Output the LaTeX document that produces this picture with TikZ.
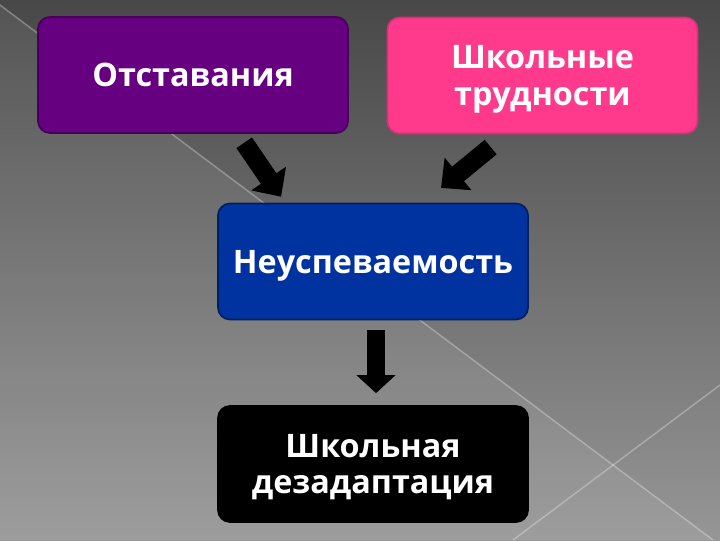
\documentclass[tikz,border=0pt]{standalone}
\usepackage{fontspec}
\setmainfont{Open Sans}
\usepackage{tikz}
\usetikzlibrary{
  arrows.meta,  % Triangle 箭头
  calc,         % 坐标计算
  positioning   % 节点相对定位
}
\definecolor{bgtop}{RGB}{72,72,72}
\definecolor{bgbottom}{RGB}{150,150,150}
\definecolor{lagpurple}{RGB}{102,0,128}
\definecolor{diffpink}{RGB}{255,58,140}
\definecolor{failblue}{RGB}{0,51,160}

\begin{document}
\begin{tikzpicture}[>=Stealth, x=0.025cm, y=-0.025cm,
  stagebox/.style={rectangle, rounded corners=0.3cm, minimum width=7.75cm,
    minimum height=2.9cm, text=white, align=center, line width=1.2pt,
    text depth=0pt, font=\bfseries\fontsize{23}{26}\selectfont},
  blockarrow/.style={line width=0.47cm, -{Triangle[length=0.55cm, width=1.02cm]}}]
  \useasboundingbox (0,0) rectangle (720,540);

  % ===== 背景 =====
  \shade[top color=bgtop, bottom color=bgbottom] (0,0) rectangle (720,540);
  \fill[white, opacity=0.07] (0,5) -- (713,540) -- (0,540) -- cycle;
  % 斜线
  \draw[white, opacity=0.3, line width=1pt] (0,5) -- (713,540);
  \draw[white, opacity=0.3, line width=1pt] (513,540) -- (720,385);

  % ===== 方框 =====
  \node[stagebox, fill=lagpurple, draw=lagpurple!70!black] (lag) at (193,75) {Отставания};
  \node[stagebox, fill=diffpink, draw=diffpink!85!black] (diff) at (542.5,75.5) {Школьные\\трудности};
  \node[stagebox, fill=failblue, draw=failblue!60!black] (fail) at (373,261.5) {Неуспеваемость};
  \node[stagebox, fill=black, draw=black] (gap) at (373,464) {Школьная\\дезадаптация};

  % ===== 箭头 =====
  % 左上 -> 中
  \draw[blockarrow, shorten <=0.27cm, shorten >=0.18cm]
    ($(lag.south west)+(201,0)$) -- ($(fail.north west)+(68,0)$);
  % 右上 -> 中
  \draw[blockarrow, shorten <=0.5cm, shorten >=0.58cm]
    ($(diff.south west)+(119.5,0)$) -- ($(fail.north west)+(206,0)$);
  % 中 -> 下
  \draw[blockarrow, -{Triangle[length=0.45cm, width=0.95cm]}, shorten <=0.25cm, shorten >=0.3cm]
    ($(fail.south)+(3,0)$) -- ($(gap.north)+(3,0)$);
\end{tikzpicture}
\end{document}
